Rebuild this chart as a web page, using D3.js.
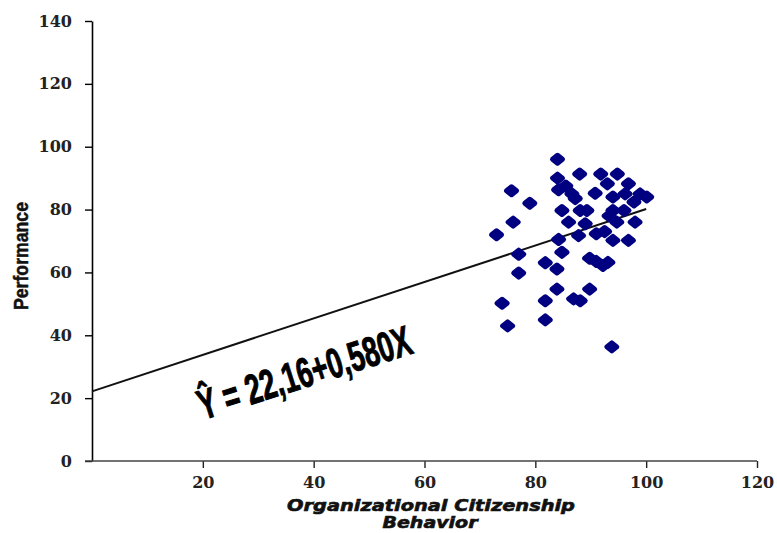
<!DOCTYPE html>
<html>
<head>
<meta charset="utf-8">
<script src="https://cdn.jsdelivr.net/npm/d3@7"></script>
<style>
  body { margin: 0; background: #fff; }
  svg { display: block; }
</style>
</head>
<body>
<svg id="chart" width="777" height="533"></svg>
<script>
// values (OCB score, performance score)
var ocb = [84, 75.7, 79, 76, 73, 84, 84.2, 86.6, 87.2, 85.5, 88, 91.8, 94.8, 93, 96.8,
  90.8, 94, 96.2, 98.9, 100.1, 97.8, 84.8, 88.1, 89.3, 94, 96, 86, 89, 94.7, 98,
  91, 92.5, 87.8, 84.2, 94, 96.8, 84.8, 77, 89.8, 91, 92.2, 93.1, 81.8, 83.9, 77,
  83.9, 89.8, 74, 81.8, 86.9, 88.1, 75, 81.8, 93.8, 93.3];
var perf = [96, 86, 82, 76, 72, 90, 86.3, 85, 83.5, 87.5, 91.3, 91.3, 91.3, 88.2, 88.2,
  85.2, 84, 85, 85, 84, 82.4, 79.7, 79.7, 79.7, 79.7, 79.7, 76, 75.5, 76, 76,
  72.3, 73, 71.7, 70.5, 70.2, 70.2, 66.4, 65.8, 64.5, 63.5, 62.2, 63.2, 63.1, 61.1, 59.8,
  54.7, 54.7, 50.2, 51, 51.6, 51, 43, 44.9, 36.3, 78];

// fitted line Y = 22.16 + 0.580X drawn over this OCB range
var intercept = 22.16, slope = 0.580;
var fitX = [0, 100];

var xTicks = [20, 40, 60, 80, 100, 120];
var yTicks = [0, 20, 40, 60, 80, 100, 120, 140];

var svg = d3.select('#chart');
var x = d3.scaleLinear().domain([0, 120]).range([92, 757]);
var y = d3.scaleLinear().domain([0, 140]).range([461, 21]);

var tickFont = 'DejaVu Serif, Liberation Serif, serif';

// y axis
var gy = svg.append('g').attr('transform', 'translate(' + x(0) + ',0)')
  .call(d3.axisLeft(y).tickValues(yTicks).tickSize(7).tickSizeOuter(0).tickPadding(13));
gy.select('.domain').attr('stroke', '#000').attr('stroke-width', 1.6);
gy.selectAll('.tick line').attr('stroke', '#000').attr('stroke-width', 1.4);
gy.selectAll('.tick text').attr('font-family', tickFont).attr('font-weight', 'bold')
  .attr('font-size', 16).attr('fill', '#222');

// x axis
var gx = svg.append('g').attr('transform', 'translate(0,' + y(0) + ')')
  .call(d3.axisBottom(x).tickValues(xTicks).tickSize(7).tickSizeOuter(0).tickPadding(9));
gx.select('.domain').remove();
gx.append('line').attr('x1', x(0) - 7).attr('x2', x(120))
  .attr('stroke', '#444').attr('stroke-width', 1.6);
gx.selectAll('.tick line').attr('stroke', '#222').attr('stroke-width', 1.4);
gx.selectAll('.tick text').attr('font-family', tickFont).attr('font-weight', 'bold')
  .attr('font-size', 16).attr('fill', '#222');

// axis titles
svg.append('text')
  .attr('transform', 'translate(28,256) rotate(-90)')
  .attr('text-anchor', 'middle')
  .attr('font-family', 'Liberation Sans Narrow, Liberation Sans, Arial, sans-serif')
  .attr('font-weight', 'bold').attr('font-size', 21)
  .attr('textLength', 108).attr('lengthAdjust', 'spacingAndGlyphs')
  .attr('fill', '#111').attr('stroke', '#111').attr('stroke-width', 0.5)
  .text('Performance');

var xTitle = svg.append('text')
  .attr('text-anchor', 'middle')
  .attr('font-family', 'DejaVu Sans, Verdana, sans-serif')
  .attr('font-weight', 'bold').attr('font-style', 'italic').attr('font-size', 15)
  .attr('fill', '#111').attr('stroke', '#111').attr('stroke-width', 0.6);
xTitle.append('tspan').attr('x', 431).attr('y', 511)
  .attr('textLength', 288).attr('lengthAdjust', 'spacingAndGlyphs')
  .text('Organizational Citizenship');
xTitle.append('tspan').attr('x', 430).attr('y', 528)
  .attr('textLength', 95).attr('lengthAdjust', 'spacingAndGlyphs')
  .text('Behavior');

// regression line
var line = d3.line()
  .x(function(d) { return x(d); })
  .y(function(d) { return y(intercept + slope * d); });
svg.append('path').datum(fitX)
  .attr('d', line)
  .attr('fill', 'none').attr('stroke', '#111').attr('stroke-width', 2);

// points (rounded diamond markers)
var marker = 'M0,-4L5,0L0,4L-5,0Z';
svg.append('g').selectAll('path')
  .data(ocb)
  .join('path')
    .attr('transform', function(d, i) { return 'translate(' + x(d) + ',' + y(perf[i]) + ')'; })
    .attr('d', marker)
    .attr('fill', '#000080')
    .attr('stroke', '#000080').attr('stroke-width', 5).attr('stroke-linejoin', 'round');

// equation label
svg.append('text')
  .attr('transform', 'translate(203,420) rotate(-17.6)')
  .attr('font-family', 'Liberation Sans Narrow, Liberation Sans, Arial, sans-serif')
  .attr('font-weight', 'bold').attr('font-size', 42)
  .attr('textLength', 222).attr('lengthAdjust', 'spacingAndGlyphs')
  .attr('fill', '#000').attr('stroke', '#000').attr('stroke-width', 1)
  .text('\u0176 = 22,16+0,580X');
</script>
</body>
</html>
